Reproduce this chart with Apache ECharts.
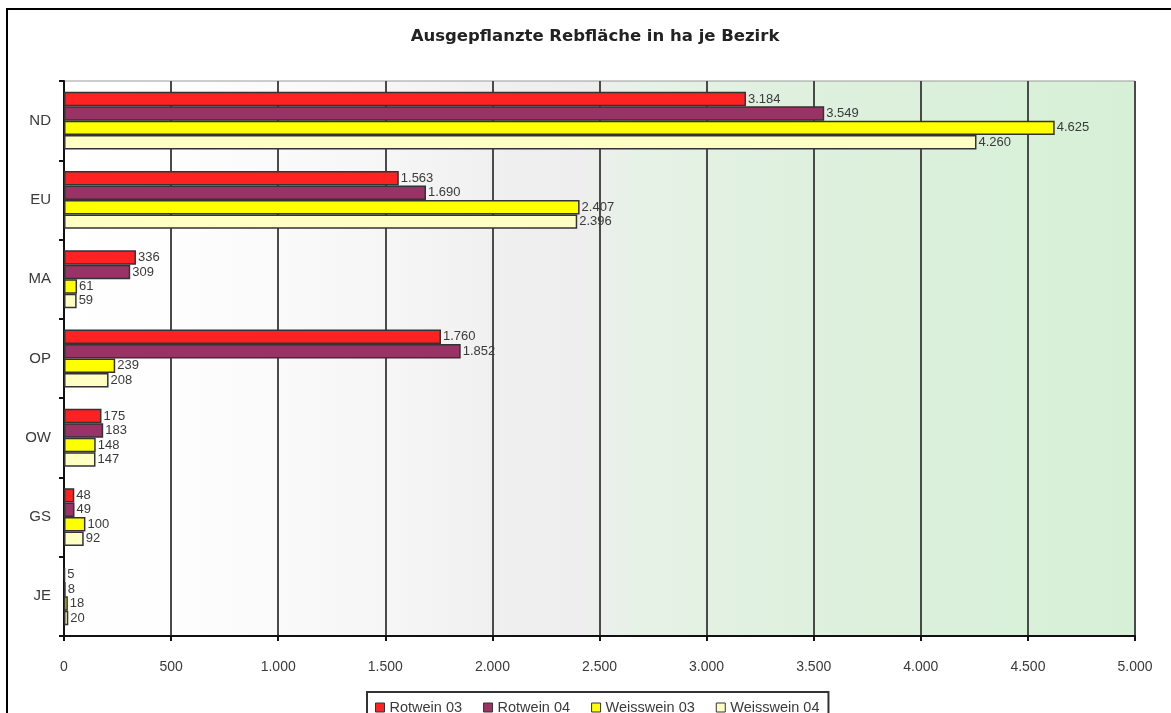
<!DOCTYPE html>
<html>
<head>
<meta charset="utf-8">
<title>Ausgepflanzte Rebfläche in ha je Bezirk</title>
<script src="https://cdn.jsdelivr.net/npm/echarts@6/dist/echarts.min.js"></script>
<style>
  html, body { margin: 0; padding: 0; background: #ffffff; }
  #chart { width: 1171px; height: 713px; }
</style>
</head>
<body>
<div id="chart"></div>
<script>
// Planted vineyard area (ha) per district
const categories = ['ND', 'EU', 'MA', 'OP', 'OW', 'GS', 'JE'];
const rotwein03 = [3184, 1563, 336, 1760, 175, 48, 5];
const rotwein04 = [3549, 1690, 309, 1852, 183, 49, 8];
const weisswein03 = [4625, 2407, 61, 239, 148, 100, 18];
const weisswein04 = [4260, 2396, 59, 208, 147, 92, 20];
const seriesNames = ['Rotwein 03', 'Rotwein 04', 'Weisswein 03', 'Weisswein 04'];
const xTicks = [0, 500, 1000, 1500, 2000, 2500, 3000, 3500, 4000, 4500, 5000];

const FONT = '"Liberation Sans", Arial, sans-serif';

// German thousands separator: 3184 -> "3.184"
function fmt(v) {
  return String(v).replace(/\B(?=(\d{3})+(?!\d))/g, '.');
}

const colors = ['#ff2222', '#993366', '#ffff00', '#ffffc4'];
const dataSets = [rotwein03, rotwein04, weisswein03, weisswein04];

const chart = echarts.init(document.getElementById('chart'), null, { renderer: 'canvas' });

const series = dataSets.map((d, i) => ({
  name: seriesNames[i],
  type: 'bar',
  data: d,
  barGap: '0%',
  barCategoryGap: '27%',
  itemStyle: {
    color: colors[i],
    borderColor: '#333333',
    borderWidth: 1.5
  },
  label: {
    show: true,
    position: 'right',
    distance: 2,
    fontFamily: FONT,
    fontSize: 13,
    color: '#3a3a3a',
    formatter: p => fmt(p.value)
  },
  emphasis: { disabled: true }
}));

chart.setOption({
  animation: false,
  backgroundColor: '#ffffff',
  title: {
    text: 'Ausgepflanzte Rebfläche in ha je Bezirk',
    left: 590,
    textAlign: 'center',
    top: 23,
    textStyle: { fontFamily: '"DejaVu Sans", sans-serif', fontSize: 16.5, fontWeight: 'bold', color: '#222222' }
  },
  legend: {
    left: 367,
    top: 692,
    itemWidth: 9,
    itemHeight: 9,
    itemGap: 21,
    icon: 'rect',
    padding: [8, 9, 4, 8],
    borderColor: '#333333',
    borderWidth: 2,
    textStyle: { fontFamily: FONT, fontSize: 14.5, color: '#3a3a3a', padding: [0, 0, 0, 0] },
    itemStyle: { borderColor: '#333333', borderWidth: 1 },
    data: seriesNames
  },
  grid: {
    left: 64,
    right: 36,
    top: 81,
    bottom: 77,
    show: true,
    borderColor: '#9a9a9a',
    borderWidth: 1,
    backgroundColor: new echarts.graphic.LinearGradient(0, 0, 1, 0, [
      { offset: 0.0, color: '#ffffff' },
      { offset: 0.12, color: '#fdfdfd' },
      { offset: 0.3, color: '#f6f6f6' },
      { offset: 0.42, color: '#efefef' },
      { offset: 0.48, color: '#eeeeee' },
      { offset: 0.54, color: '#e6f2e6' },
      { offset: 0.7, color: '#def0de' },
      { offset: 1.0, color: '#d6f0d6' }
    ])
  },
  xAxis: {
    type: 'value',
    min: xTicks[0],
    max: xTicks[xTicks.length - 1],
    interval: xTicks[1] - xTicks[0],
    axisLine: { show: true, lineStyle: { color: '#111111', width: 2 } },
    axisTick: { show: true, length: 5, lineStyle: { color: '#111111', width: 2 } },
    axisLabel: {
      fontFamily: FONT, fontSize: 14, color: '#3a3a3a', margin: 24,
      formatter: v => fmt(v)
    },
    splitLine: { show: true, lineStyle: { color: '#4a4a4a', width: 2 } }
  },
  yAxis: {
    type: 'category',
    data: categories,
    inverse: true,
    axisLine: { show: true, lineStyle: { color: '#111111', width: 2 } },
    axisTick: { show: true, length: 5, lineStyle: { color: '#111111', width: 2 } },
    axisLabel: { fontFamily: FONT, fontSize: 15, color: '#3a3a3a', margin: 13 }
  },
  series: series,
  graphic: [
    {
      type: 'rect',
      silent: true,
      z: 100,
      shape: { x: 7, y: 9, width: 1250, height: 800 },
      style: { fill: null, stroke: '#000000', lineWidth: 2 }
    }
  ]
});
</script>
</body>
</html>
